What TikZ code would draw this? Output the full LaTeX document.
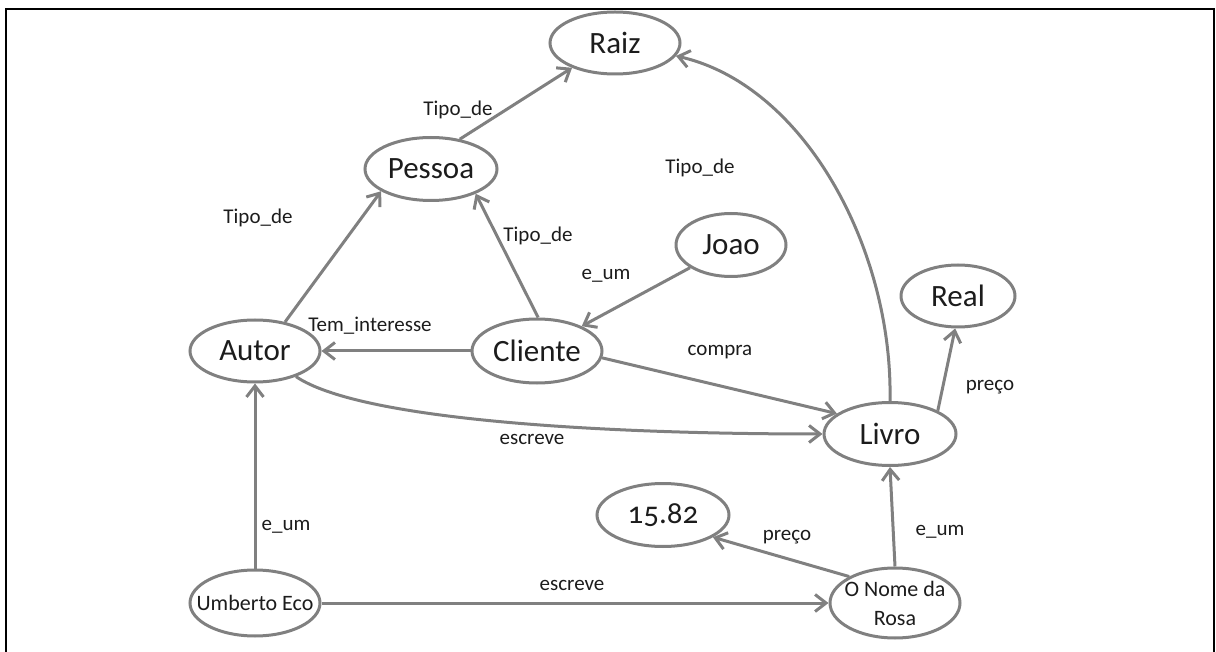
\documentclass[tikz,border=0pt]{standalone}
\usepackage{fontspec}
\setmainfont{Carlito}
\usetikzlibrary{shapes.geometric,arrows.meta}
\definecolor{edgegray}{RGB}{128,128,128}
\definecolor{inkgray}{RGB}{28,28,28}
\begin{document}
\begin{tikzpicture}[x=1pt,y=-1pt,
  concept/.style={ellipse, draw=edgegray, line width=3pt, inner sep=0pt},
  bigtext/.style={text=inkgray, inner sep=0pt, font=\fontsize{31}{36}\selectfont},
  smalltext/.style={text=inkgray, inner sep=0pt, align=center, font=\fontsize{22}{29}\selectfont},
  rel/.style={draw=edgegray, line width=3pt, -{Straight Barb[length=11pt,width=17pt]}},
  lbl/.style={text=inkgray, inner sep=0pt, font=\fontsize{21}{25}\selectfont}
]
\useasboundingbox (0,0) rectangle (1216,652);

% frame, open at the bottom
\draw[line width=2.5pt] (6,660) -- (6,9) -- (1214,9) -- (1214,660);

% concepts
\node[concept, minimum width=130pt, minimum height=62pt, label={[bigtext]center:Raiz}] (raiz) at (615,43) {};
\node[concept, minimum width=132pt, minimum height=63pt, label={[bigtext]center:Pessoa}] (pessoa) at (431,169) {};
\node[concept, minimum width=110pt, minimum height=63pt, label={[bigtext]center:Joao}] (joao) at (731,245) {};
\node[concept, minimum width=114pt, minimum height=62pt, label={[bigtext]center:Real}] (real) at (958,296) {};
\node[concept, minimum width=130pt, minimum height=62pt, label={[bigtext]center:Autor}] (autor) at (255,351) {};
\node[concept, minimum width=130pt, minimum height=64pt, label={[bigtext]center:Cliente}] (cliente) at (537,351) {};
\node[concept, minimum width=132pt, minimum height=63pt, label={[bigtext]center:Livro}] (livro) at (890,434) {};
\node[concept, minimum width=132pt, minimum height=63pt, label={[bigtext]center:{\addfontfeatures{Numbers=OldStyle}15.82}}] (preco) at (663,515) {};
\node[concept, minimum width=130pt, minimum height=66pt, label={[smalltext]center:Umberto Eco}] (umberto) at (255,603) {};
\node[concept, minimum width=130pt, minimum height=70pt, label={[smalltext]center:O Nome da\\Rosa}] (rosa) at (895,603) {};

% relations
\draw[rel] (pessoa.46) -- (raiz.-150);
\draw[rel] (livro.north) .. controls (893,250) and (805,85) .. (raiz.-12);
\draw[rel] (autor.44) -- (pessoa.204);
\draw[rel] (cliente.88) -- (pessoa.-29);
\draw[rel] (joao.-151) -- (cliente.29);
\draw[rel] (cliente.west) -- (autor.east);
\draw[rel] (cliente.-6) -- (livro.159);
\draw[rel] (autor.-32) .. controls (360,420) and (600,434) .. (livro.west);
\draw[rel] (livro.26) -- (real.-95);
\draw[rel] (umberto.north) -- (autor.south);
\draw[rel] (umberto.east) -- (rosa.west);
\draw[rel] (rosa.150) -- (preco.-24);
\draw[rel] (rosa.north) -- (livro.south);

% relation names
\node[lbl] (l-pessoa-raiz) at (458,110) {Tipo\_de};
\node[lbl] (l-livro-raiz) at (700,168) {Tipo\_de};
\node[lbl] (l-autor-pessoa) at (258,218) {Tipo\_de};
\node[lbl] (l-cliente-pessoa) at (538,236) {Tipo\_de};
\node[lbl] (l-joao-cliente) at (606,276) {e\_um};
\node[lbl] (l-interesse) at (370,326) {Tem\_interesse};
\node[lbl] (l-compra) at (720,352) {compra};
\node[lbl] (l-escreve-autor) at (532,439) {escreve};
\node[lbl] (l-preco-real) at (990,387) {preço};
\node[lbl] (l-umberto-autor) at (286,527) {e\_um};
\node[lbl] (l-escreve-rosa) at (572,585) {escreve};
\node[lbl] (l-preco-rosa) at (787,537) {preço};
\node[lbl] (l-rosa-livro) at (940,532) {e\_um};
\end{tikzpicture}
\end{document}
